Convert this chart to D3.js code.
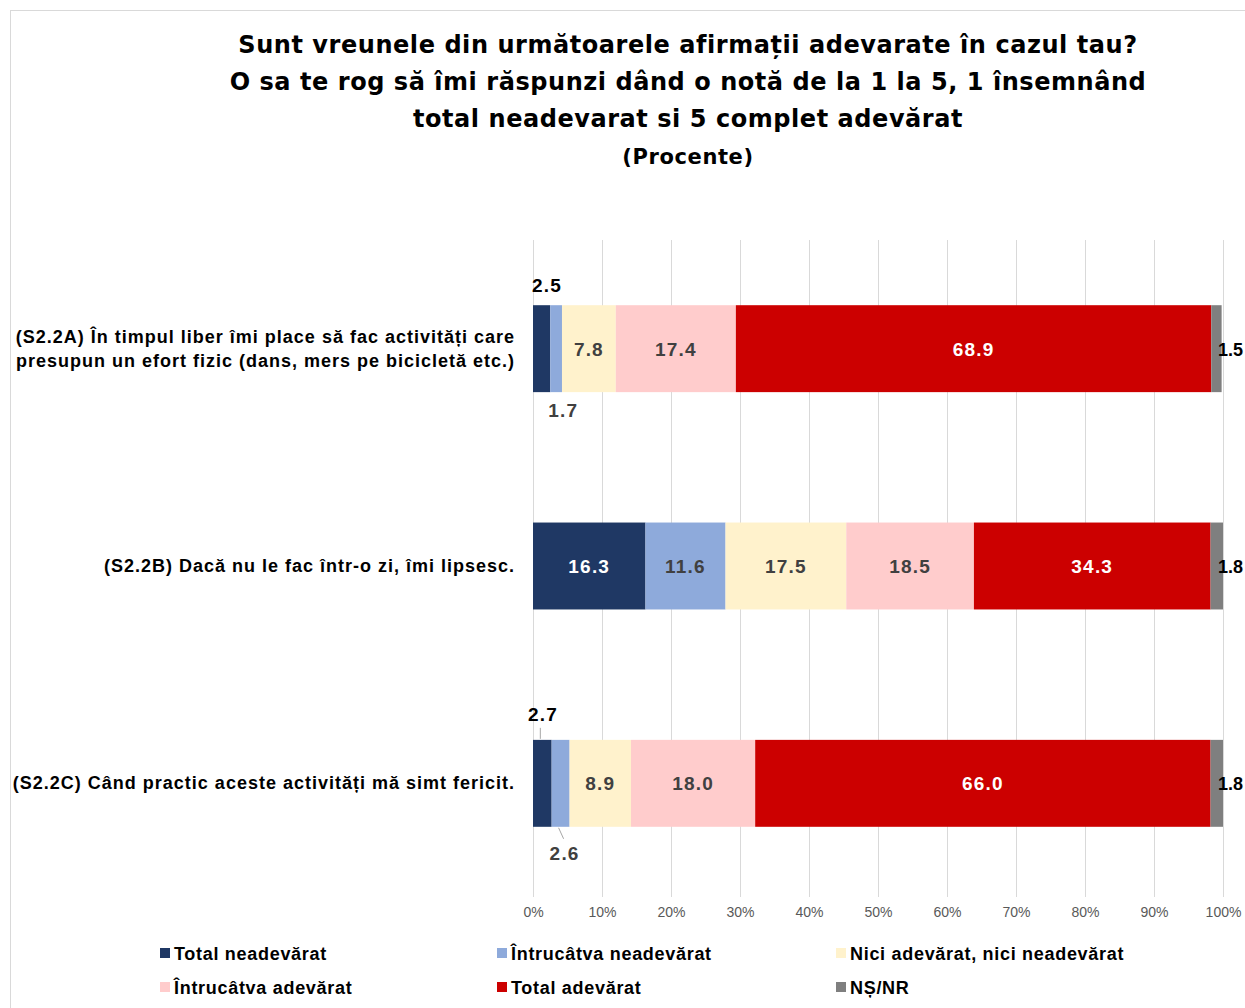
<!DOCTYPE html>
<html>
<head>
<meta charset="utf-8">
<script src="https://cdn.jsdelivr.net/npm/d3@7"></script>
<style>
  body { margin: 0; background: #fff; }
  svg { display: block; font-family: "Liberation Sans", Arial, sans-serif; }
</style>
</head>
<body>
<svg id="chart" width="1245" height="1008"></svg>
<script>
const titleLines = [
  'Sunt vreunele din următoarele afirmații adevarate în cazul tau?',
  'O sa te rog să îmi răspunzi dând o notă de la 1 la 5, 1 însemnând',
  'total neadevarat si 5 complet adevărat',
  '(Procente)'
]

const categories = [
  ['(S2.2A) În timpul liber îmi place să fac activități care', 'presupun un efort fizic (dans, mers pe bicicletă etc.)'],
  ['(S2.2B) Dacă nu le fac într-o zi, îmi lipsesc.'],
  ['(S2.2C) Când practic aceste activități mă simt fericit.']
]

const seriesNames = [
  'Total neadevărat',
  'Întrucâtva neadevărat',
  'Nici adevărat, nici neadevărat',
  'Întrucâtva adevărat',
  'Total adevărat',
  'NȘ/NR'
]

const totalNeadevarat = [2.5, 16.3, 2.7]
const intrucatvaNeadevarat = [1.7, 11.6, 2.6]
const niciNici = [7.8, 17.5, 8.9]
const intrucatvaAdevarat = [17.4, 18.5, 18.0]
const totalAdevarat = [68.9, 34.3, 66.0]
const nsNr = [1.5, 1.8, 1.8]

const xTicks = [0, 10, 20, 30, 40, 50, 60, 70, 80, 90, 100]

const colors = ['#1f3864', '#8eaadb', '#fff2cc', '#ffcccc', '#cc0000', '#7f7f7f']
const labelColors = ['#ffffff', '#404040', '#404040', '#404040', '#ffffff', '#000000']

const series = [totalNeadevarat, intrucatvaNeadevarat, niciNici, intrucatvaAdevarat, totalAdevarat, nsNr]

const svg = d3.select('#chart')

// frame
svg.append('rect')
    .attr('x', 10.5).attr('y', 10.5)
    .attr('width', 1260).attr('height', 1010)
    .attr('fill', 'none')
    .attr('stroke', '#d9d9d9')

// title
svg.append('g')
    .selectAll('text')
    .data(titleLines)
    .join('text')
    .attr('x', 688)
    .attr('y', (d, i) => 53 + i * 37)
    .attr('text-anchor', 'middle')
    .attr('font-family', '"DejaVu Sans", Verdana, sans-serif')
    .attr('font-size', (d, i) => i === 3 ? 21 : 24)
    .attr('font-weight', 'bold')
    .attr('letter-spacing', (d, i) => i === 3 ? 0.6 : 0.55)
    .attr('fill', '#000')
    .text(d => d)

const x = d3.scaleLinear().domain([0, 100]).range([533, 1223])
const y = d3.scaleBand().domain(d3.range(categories.length)).range([240, 892]).paddingInner(0.6).paddingOuter(0.3)

// gridlines
svg.append('g')
    .selectAll('line')
    .data(xTicks)
    .join('line')
    .attr('x1', d => x(d) + 0.5).attr('x2', d => x(d) + 0.5)
    .attr('y1', 240).attr('y2', 897)
    .attr('stroke', '#d9d9d9')
    .attr('stroke-width', 1)

// axis labels
const axis = d3.axisBottom(x).tickValues(xTicks).tickFormat(d => d + '%').tickSize(0).tickPadding(0)
const axisG = svg.append('g')
    .attr('transform', 'translate(0,907)')
    .call(axis)
axisG.select('.domain').remove()
axisG.selectAll('text')
    .attr('font-family', '"Liberation Sans", Arial, sans-serif')
    .attr('font-size', 14)
    .attr('fill', '#595959')

// stack data
const rows = categories.map((c, i) => {
  let acc = 0
  return series.map((s, k) => {
    const seg = { row: i, k, v: s[i], x0: acc, x1: acc + s[i] }
    acc += s[i]
    return seg
  })
})

const barH = y.bandwidth()

const barG = svg.append('g')
barG.selectAll('g')
    .data(rows)
    .join('g')
    .selectAll('rect')
    .data(d => d)
    .join('rect')
    .attr('x', d => x(d.x0))
    .attr('y', d => y(d.row))
    .attr('width', d => x(d.x1) - x(d.x0))
    .attr('height', barH)
    .attr('fill', d => colors[d.k])

// value labels
const segs = rows.flat()
const labelG = svg.append('g')
    .attr('font-weight', 'bold')

segs.forEach(d => {
  const cy = y(d.row) + barH / 2
  const w = x(d.x1) - x(d.x0)
  let lx, ly, fill = labelColors[d.k], anchor = 'middle', spacing = 1.2, size = 19
  if (d.k === 5) {
    lx = x(100) - 5; ly = cy + 7; anchor = 'start'; fill = '#000'; spacing = 0; size = 18
  } else if (w < 30) {
    if (d.k === 0) {
      lx = x(d.x0) + (d.row === 2 ? 10 : 14); ly = y(d.row) - (d.row === 2 ? 19 : 13); fill = '#000'
    } else {
      lx = x(d.x0) + 13; ly = y(d.row) + barH + (d.row === 2 ? 33 : 25); fill = '#404040'
    }
    if (d.row === 2) {
      const lineX = x((d.x0 + d.x1) / 2)
      if (d.k === 0) {
        labelG.append('line')
            .attr('x1', lineX - 2).attr('x2', lineX - 2)
            .attr('y1', y(d.row) - 12).attr('y2', y(d.row) - 1)
            .attr('stroke', '#a6a6a6')
      } else {
        labelG.append('line')
            .attr('x1', lineX - 2).attr('x2', lineX + 3)
            .attr('y1', y(d.row) + barH + 1).attr('y2', y(d.row) + barH + 12)
            .attr('stroke', '#a6a6a6')
      }
    }
  } else {
    lx = x((d.x0 + d.x1) / 2); ly = cy + 7
  }
  labelG.append('text')
      .attr('x', lx).attr('y', ly)
      .attr('text-anchor', anchor)
      .attr('fill', fill)
      .attr('font-size', size)
      .attr('letter-spacing', spacing)
      .text(d.v.toFixed(1))
})

// category labels
svg.append('g')
    .selectAll('text')
    .data(categories)
    .join('text')
    .attr('text-anchor', 'end')
    .attr('font-size', 18)
    .attr('font-weight', 'bold')
    .attr('letter-spacing', 1.0)
    .attr('fill', '#000')
    .each(function(lines, i) {
      const cy = y(i) + barH / 2
      const t = d3.select(this)
      lines.forEach((ln, j) => {
        t.append('tspan')
            .attr('x', 515)
            .attr('y', cy + 6 + (j - (lines.length - 1) / 2) * 24)
            .text(ln)
      })
    })

// legend
const legendX = [160, 497, 836]
const legendY = [953, 987]
const legend = svg.append('g')
    .selectAll('g')
    .data(seriesNames)
    .join('g')
    .attr('transform', (d, i) => `translate(${legendX[i % 3]},${legendY[Math.floor(i / 3)]})`)
legend.append('rect')
    .attr('x', 0).attr('y', -5)
    .attr('width', 10).attr('height', 10)
    .attr('fill', (d, i) => colors[i])
legend.append('text')
    .attr('x', 14).attr('y', 7)
    .attr('font-size', 18)
    .attr('font-weight', 'bold')
    .attr('letter-spacing', 0.7)
    .attr('fill', '#000')
    .text(d => d)
</script>
</body>
</html>
